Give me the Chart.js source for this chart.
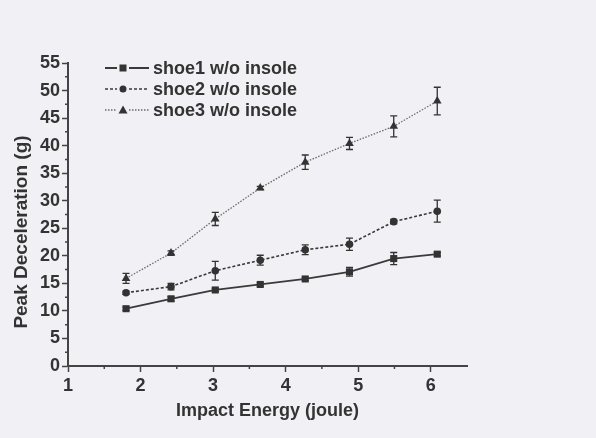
<!DOCTYPE html>
<html>
<head>
<meta charset="utf-8">
<script src="https://cdn.jsdelivr.net/npm/chart.js"></script>
<style>
  html, body { margin: 0; padding: 0; background: #f1f0f4; }
  canvas { display: block; }
</style>
</head>
<body>
<canvas id="decelChart" width="596" height="438"></canvas>
<script>
// Impact energy (joule) for each drop test
const energy = [1.8, 2.42, 3.03, 3.65, 4.27, 4.88, 5.49, 6.09];

// Peak deceleration (g), mean and error
const shoe1 = [10.4, 12.2, 13.8, 14.8, 15.8, 17.1, 19.5, 20.3];
const shoe1Err = [0.3, 0.4, 0.3, 0.3, 0.3, 0.8, 1.1, 0.3];
const shoe2 = [13.3, 14.4, 17.3, 19.2, 21.1, 22.1, 26.2, 28.1];
const shoe2Err = [0.3, 0.6, 1.7, 0.9, 0.9, 1.1, 0.4, 2.0];
const shoe3 = [15.9, 20.5, 26.7, 32.3, 37.0, 40.4, 43.5, 48.1];
const shoe3Err = [0.9, 0.4, 1.2, 0.3, 1.3, 1.1, 1.9, 2.5];

const seriesNames = ['shoe1 w/o insole', 'shoe2 w/o insole', 'shoe3 w/o insole'];
const xTitle = 'Impact Energy (joule)';
const yTitle = 'Peak Deceleration (g)';

const ink = '#333333';
const toPoints = (ys) => ys.map((y, i) => ({ x: energy[i], y: y }));

// Vertical error bars with caps
const errorBars = {
  id: 'errorBars',
  afterDatasetsDraw(chart) {
    const { ctx } = chart;
    const yScale = chart.scales.y;
    chart.data.datasets.forEach((ds, di) => {
      const meta = chart.getDatasetMeta(di);
      ctx.save();
      ctx.strokeStyle = ink;
      ctx.lineWidth = 1.3;
      meta.data.forEach((pt, i) => {
        const v = ds.data[i].y;
        const e = ds.errors[i];
        const top = yScale.getPixelForValue(v + e);
        const bot = yScale.getPixelForValue(v - e);
        ctx.beginPath();
        ctx.moveTo(pt.x, top);
        ctx.lineTo(pt.x, bot);
        ctx.moveTo(pt.x - 3.5, top);
        ctx.lineTo(pt.x + 3.5, top);
        ctx.moveTo(pt.x - 3.5, bot);
        ctx.lineTo(pt.x + 3.5, bot);
        ctx.stroke();
      });
      ctx.restore();
    });
  }
};

// Half-step minor ticks on both axes
const minorTicks = {
  id: 'minorTicks',
  afterDraw(chart) {
    const { ctx, scales: { x, y } } = chart;
    ctx.save();
    ctx.strokeStyle = '#444';
    ctx.lineWidth = 1.5;
    ctx.beginPath();
    for (let v = 1.5; v < x.max; v += 1) {
      const px = x.getPixelForValue(v);
      ctx.moveTo(px, y.bottom);
      ctx.lineTo(px, y.bottom + 3);
    }
    for (let v = 2.5; v < y.max; v += 5) {
      const py = y.getPixelForValue(v);
      ctx.moveTo(x.left, py);
      ctx.lineTo(x.left - 3, py);
    }
    ctx.stroke();
    ctx.restore();
  }
};

function drawMarker(ctx, style, cx, cy) {
  ctx.beginPath();
  if (style === 'rect') {
    ctx.rect(cx - 3.5, cy - 3.5, 7, 7);
  } else if (style === 'circle') {
    ctx.arc(cx, cy, 3.5, 0, Math.PI * 2);
  } else {
    ctx.moveTo(cx, cy - 4.5);
    ctx.lineTo(cx + 4.5, cy + 3.5);
    ctx.lineTo(cx - 4.5, cy + 3.5);
    ctx.closePath();
  }
  ctx.fill();
}

// Legend in the upper left of the plot, plus axis titles
const annotations = {
  id: 'annotations',
  afterDraw(chart) {
    const { ctx, chartArea } = chart;
    ctx.save();
    chart.data.datasets.forEach((ds, i) => {
      const ly = chartArea.top + 5 + i * 21;
      const lx = chartArea.left + 37;
      ctx.strokeStyle = ds.borderColor;
      ctx.lineWidth = ds.borderWidth;
      ctx.setLineDash(ds.borderDash || []);
      ctx.beginPath();
      ctx.moveTo(lx, ly);
      ctx.lineTo(lx + 12, ly);
      ctx.moveTo(lx + 24, ly);
      ctx.lineTo(lx + 44, ly);
      ctx.stroke();
      ctx.setLineDash([]);
      ctx.fillStyle = ink;
      drawMarker(ctx, ds.pointStyle, lx + 18, ly);
      ctx.font = 'bold 18px "Liberation Sans", Arial, sans-serif';
      ctx.textBaseline = 'middle';
      ctx.textAlign = 'left';
      ctx.fillText(ds.label, lx + 48, ly + 1);
    });

    ctx.fillStyle = ink;
    ctx.font = 'bold 18px "Liberation Sans", Arial, sans-serif';
    ctx.textAlign = 'center';
    ctx.textBaseline = 'middle';
    ctx.fillText(xTitle, (chartArea.left + chartArea.right) / 2, 411);

    ctx.translate(22, 232);
    ctx.rotate(-Math.PI / 2);
    ctx.font = 'bold 19px "Liberation Sans", Arial, sans-serif';
    ctx.fillText(yTitle, 0, 0);
    ctx.restore();
  }
};

const tickFont = { family: '"Liberation Sans", Arial, sans-serif', size: 18, weight: 'bold' };

new Chart(document.getElementById('decelChart'), {
  type: 'line',
  data: {
    datasets: [
      {
        label: seriesNames[0],
        data: toPoints(shoe1),
        errors: shoe1Err,
        borderColor: '#3a3a3a',
        borderWidth: 1.8,
        pointStyle: 'rect',
        pointRadius: 5,
        backgroundColor: ink,
        pointBorderWidth: 0
      },
      {
        label: seriesNames[1],
        data: toPoints(shoe2),
        errors: shoe2Err,
        borderColor: '#3a3a3a',
        borderWidth: 1.6,
        borderDash: [3, 2],
        pointStyle: 'circle',
        pointRadius: 3.8,
        backgroundColor: ink,
        pointBorderWidth: 0
      },
      {
        label: seriesNames[2],
        data: toPoints(shoe3),
        errors: shoe3Err,
        borderColor: '#6a6a6a',
        borderWidth: 1.3,
        borderDash: [1.5, 1.5],
        pointStyle: 'triangle',
        pointRadius: 5,
        backgroundColor: ink,
        pointBorderWidth: 0
      }
    ]
  },
  options: {
    responsive: false,
    animation: false,
    devicePixelRatio: 1,
    layout: { padding: { top: 63, right: 129, bottom: 0, left: 0 } },
    elements: { line: { tension: 0 } },
    plugins: { legend: { display: false }, tooltip: { enabled: false } },
    scales: {
      x: {
        type: 'linear',
        min: 1,
        max: 6.5,
        afterFit: (scale) => { scale.height = 72; },
        ticks: { stepSize: 1, includeBounds: false, color: ink, font: tickFont, padding: 3 },
        grid: { drawOnChartArea: false, tickLength: 6, tickColor: '#444', tickWidth: 1.5 },
        border: { color: '#444', width: 2 }
      },
      y: {
        min: 0,
        max: 55,
        afterFit: (scale) => { scale.width = 68; },
        ticks: { stepSize: 5, color: ink, font: tickFont, padding: 2 },
        grid: { drawOnChartArea: false, tickLength: 6, tickColor: '#444', tickWidth: 1.5 },
        border: { color: '#444', width: 2 }
      }
    }
  },
  plugins: [errorBars, minorTicks, annotations]
});
</script>
</body>
</html>
